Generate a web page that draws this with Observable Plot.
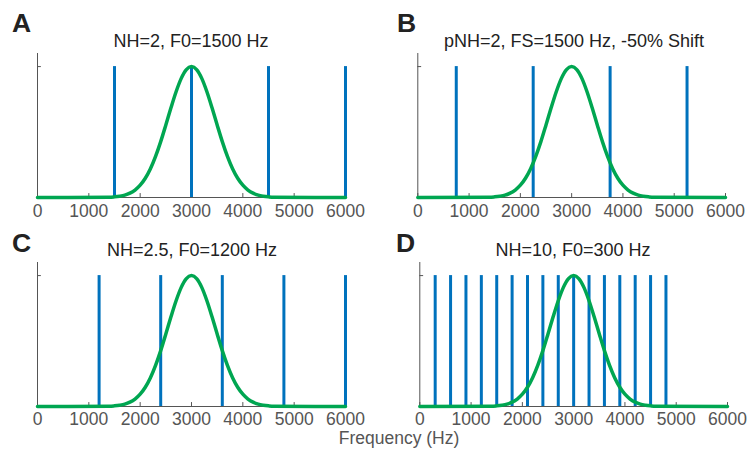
<!DOCTYPE html>
<html><head><meta charset="utf-8">
<script src="https://cdn.jsdelivr.net/npm/d3@7"></script>
<script src="https://cdn.jsdelivr.net/npm/@observablehq/plot@0.6"></script>
<style>
body{margin:0;background:#fff;}
#fig{position:relative;width:751px;height:449px;font-family:"Liberation Sans",Arial,Helvetica,sans-serif;overflow:hidden;}
#fig > div.panel{position:absolute;}
#overlay{position:absolute;left:0;top:0;}
</style></head><body><div id="fig"></div>
<script>
// ---- data ----
const xTicks = [0, 1000, 2000, 3000, 4000, 5000, 6000];
const curveFreq = [0, 1400, 1500, 1600, 1700, 1800, 1900, 2000, 2100, 2200, 2300, 2400, 2500, 2600, 2700, 2800, 2900, 3000,
  3100, 3200, 3300, 3400, 3500, 3600, 3700, 3800, 3900, 4000, 4100, 4200, 4300, 4400, 4500, 4600, 6000];
const curveAmp = [0, 0.002, 0.005, 0.010, 0.018, 0.033, 0.057, 0.094, 0.147, 0.220, 0.314, 0.427, 0.554, 0.685, 0.808, 0.910, 0.977, 1.0,
  0.977, 0.910, 0.808, 0.685, 0.554, 0.427, 0.314, 0.220, 0.147, 0.094, 0.057, 0.033, 0.018, 0.010, 0.005, 0.002, 0];
const harmonicsA = [1500, 3000, 4500, 6000];
const harmonicsB = [750, 2250, 3750, 5250];
const harmonicsC = [1200, 2400, 3600, 4800, 6000];
const harmonicsD = [300, 600, 900, 1200, 1500, 1800, 2100, 2400, 2700, 3000, 3300, 3600, 3900, 4200, 4500, 4800];
const titles = ["NH=2, F0=1500 Hz", "pNH=2, FS=1500 Hz, -50% Shift", "NH=2.5, F0=1200 Hz", "NH=10, F0=300 Hz"];
const letters = ["A", "B", "C", "D"];
const xLabel = "Frequency (Hz)";

const curve = curveFreq.map((f, i) => ({f, a: curveAmp[i]}));
const BLUE = "#0072BD", GREEN = "#00A651", AXIS = "#555";
const FONT = '"Liberation Sans", Arial, Helvetica, sans-serif';

const panels = [
  {h: harmonicsA, left: 0,   top: 0,   width: 375, height: 225, ml: 37,   mr: 30, mt: 53, mb: 28, pad: 7},
  {h: harmonicsB, left: 375, top: 0,   width: 376, height: 225, ml: 42.3, mr: 26, mt: 53, mb: 28, pad: 7},
  {h: harmonicsC, left: 0,   top: 215, width: 375, height: 225, ml: 37,   mr: 30, mt: 47, mb: 34, pad: 6},
  {h: harmonicsD, left: 375, top: 215, width: 376, height: 225, ml: 44.3, mr: 24, mt: 47, mb: 34, pad: 6}
];

const fig = document.getElementById("fig");
panels.forEach(p => {
  const chart = Plot.plot({
    width: p.width, height: p.height,
    marginLeft: p.ml, marginRight: p.mr, marginTop: p.mt, marginBottom: p.mb,
    style: {fontFamily: FONT, background: "transparent", overflow: "visible"},
    x: {domain: [0, 6000]},
    y: {domain: [0, 1.1], axis: null},
    marks: [
      Plot.ruleY([0], {stroke: AXIS, strokeWidth: 1}),
      Plot.ruleX([0], {stroke: AXIS, strokeWidth: 1}),
      Plot.ruleX(xTicks, {y1: 0, y2: 0.03, stroke: AXIS, strokeWidth: 1}),
      Plot.ruleY([1], {x1: 0, x2: 75, stroke: AXIS, strokeWidth: 1}),
      Plot.axisX({ticks: xTicks, tickSize: 0, tickPadding: p.pad, fontSize: 17.5, color: "#555", label: null, tickFormat: d => String(d)}),
      Plot.ruleX(p.h, {y1: 0, y2: 1, stroke: BLUE, strokeWidth: 3}),
      Plot.line(curve, {x: "f", y: "a", curve: "monotone-x", stroke: GREEN, strokeWidth: 3.5})
    ]
  });
  const div = document.createElement("div");
  div.className = "panel";
  div.style.left = p.left + "px";
  div.style.top = p.top + "px";
  div.appendChild(chart);
  fig.appendChild(div);
});

// text overlay
const svg = d3.select(fig).append("svg").attr("id", "overlay")
  .attr("width", 751).attr("height", 449).style("font-family", FONT);
const titlePos = [[191, 46.5], [574, 46.5], [192, 255.5], [573, 255.5]];
const letterPos = [[12, 32], [397, 32], [12, 252], [396, 252]];
titles.forEach((t, i) => {
  svg.append("text").attr("x", titlePos[i][0]).attr("y", titlePos[i][1])
    .attr("text-anchor", "middle").attr("font-size", 18).attr("fill", "#222").text(t);
  svg.append("text").attr("x", letterPos[i][0]).attr("y", letterPos[i][1])
    .attr("font-size", 26.5).attr("font-weight", "bold").attr("fill", "#222").text(letters[i]);
});
svg.append("text").attr("x", 399).attr("y", 443.5).attr("text-anchor", "middle")
  .attr("font-size", 17.5).attr("fill", "#555").text(xLabel);
</script></body></html>
